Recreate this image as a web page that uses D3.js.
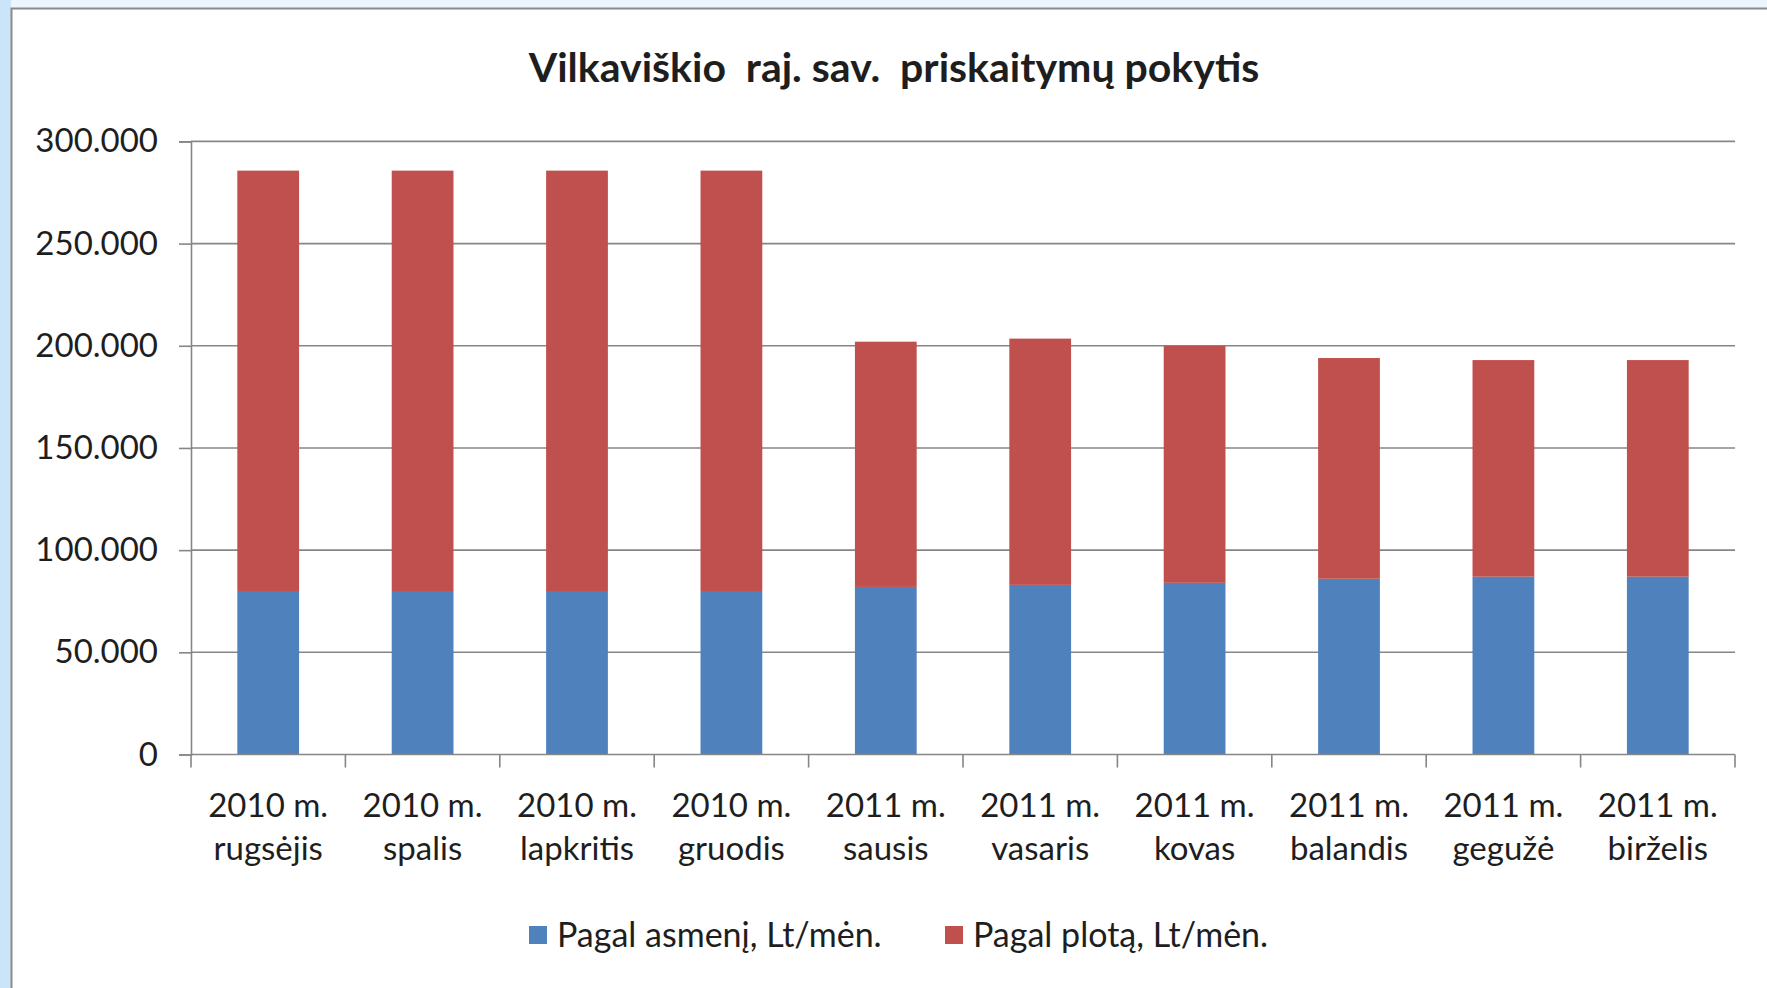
<!DOCTYPE html>
<html>
<head>
<meta charset="utf-8">
<script src="https://cdn.jsdelivr.net/npm/d3@7"></script>
<style>
  body { margin: 0; background: #eef6fd; }
  svg { display: block; }
  text { font-family: Lato, "Open Sans", sans-serif; fill: #1e1e1e; }
</style>
</head>
<body>
<div id="chart"></div>
<script>
// data
const years = ["2010 m.", "2010 m.", "2010 m.", "2010 m.", "2011 m.", "2011 m.", "2011 m.", "2011 m.", "2011 m.", "2011 m."]
const months = ["rugsėjis", "spalis", "lapkritis", "gruodis", "sausis", "vasaris", "kovas", "balandis", "gegužė", "birželis"]
const pagalAsmeni = [80000, 80000, 80000, 80000, 82000, 83000, 84000, 86000, 87000, 87000]
const pagalPlota = [205700, 205700, 205700, 205700, 120000, 120500, 116000, 108000, 106000, 106000]
const yTicks = [0, 50000, 100000, 150000, 200000, 250000, 300000]
const seriesNames = ["Pagal asmenį, Lt/mėn.", "Pagal plotą, Lt/mėn."]
const seriesColors = ["#4f81bd", "#c0504d"]
const title = "Vilkaviškio  raj. sav.  priskaitymų pokytis"

const W = 1767, H = 988
const plot = { left: 191, right: 1735, top: 141.4, bottom: 754.5 }

const svg = d3.select("#chart").append("svg")
    .attr("width", W)
    .attr("height", H)

// page background + chart frame
svg.append("rect").attr("width", W).attr("height", H).attr("fill", "#eef6fd")
svg.append("rect").attr("width", 11).attr("height", H).attr("fill", "#cce4f7")
svg.append("rect")
    .attr("x", 11.5).attr("y", 8.5)
    .attr("width", W).attr("height", H)
    .attr("fill", "#fff")
    .attr("stroke", "#8a8a8a")
    .attr("stroke-width", 2)

// title
svg.append("text")
    .attr("x", 894)
    .attr("y", 68)
    .attr("dy", "0.35em")
    .attr("text-anchor", "middle")
    .style("white-space", "pre")
    .style("font-weight", "bold")
    .style("font-size", "41px")
    .text(title)

const cats = months.map((m, i) => years[i] + " " + m)

const x = d3.scaleBand()
    .domain(cats)
    .range([plot.left, plot.right])
    .paddingInner(0.6)
    .paddingOuter(0.3)

const y = d3.scaleLinear()
    .domain([0, 300000])
    .range([plot.bottom, plot.top])

const fmt = d3.formatLocale({ decimal: ",", thousands: ".", grouping: [3], currency: ["", ""] }).format(",d")

// gridlines
svg.append("g")
    .selectAll("line")
    .data(yTicks.filter(d => d > 0))
    .enter()
    .append("line")
        .attr("x1", plot.left)
        .attr("x2", plot.right)
        .attr("y1", d => y(d))
        .attr("y2", d => y(d))
        .attr("stroke", "#868686")
        .attr("stroke-width", 1.6)

// stacked bars
const rows = cats.map((c, i) => ({ cat: c, a: pagalAsmeni[i], p: pagalPlota[i] }))
const stack = d3.stack().keys(["a", "p"])(rows)

svg.append("g")
    .selectAll("g")
    .data(stack)
    .enter()
    .append("g")
        .attr("fill", (d, i) => seriesColors[i])
    .selectAll("rect")
    .data(d => d)
    .enter()
    .append("rect")
        .attr("x", d => x(d.data.cat))
        .attr("width", x.bandwidth())
        .attr("y", d => y(d[1]))
        .attr("height", d => y(d[0]) - y(d[1]))

// y axis
const yAxis = svg.append("g")
    .attr("transform", "translate(" + plot.left + ",0)")
    .call(d3.axisLeft(y).tickValues(yTicks).tickFormat(fmt).tickSize(12).tickPadding(21))
yAxis.select(".domain").attr("stroke", "#868686").attr("stroke-width", 1.6)
yAxis.selectAll(".tick line").attr("stroke", "#868686").attr("stroke-width", 1.6)
yAxis.selectAll(".tick text")
    .style("font-size", "33px")
    .style("font-family", "Lato, sans-serif")
    .attr("fill", "#1e1e1e")

// x axis line + boundary ticks
const bounds = d3.range(cats.length + 1).map(i => plot.left + i * (plot.right - plot.left) / cats.length)
const xAxis = svg.append("g")
xAxis.append("line")
    .attr("x1", plot.left).attr("x2", plot.right)
    .attr("y1", plot.bottom).attr("y2", plot.bottom)
    .attr("stroke", "#868686").attr("stroke-width", 1.6)
xAxis.selectAll(".bt")
    .data(bounds)
    .enter()
    .append("line")
        .attr("class", "bt")
        .attr("x1", d => d).attr("x2", d => d)
        .attr("y1", plot.bottom).attr("y2", plot.bottom + 13)
        .attr("stroke", "#868686").attr("stroke-width", 1.6)

// category labels, two lines
const lab = xAxis.selectAll(".lab")
    .data(cats)
    .enter()
    .append("text")
        .attr("class", "lab")
        .attr("text-anchor", "middle")
        .style("font-size", "33px")
lab.append("tspan")
    .attr("x", d => x(d) + x.bandwidth() / 2)
    .attr("y", 817)
    .text((d, i) => years[i])
lab.append("tspan")
    .attr("x", d => x(d) + x.bandwidth() / 2)
    .attr("y", 860)
    .text((d, i) => months[i])

// legend
const legendX = [529, 945]
const leg = svg.append("g")
    .selectAll("g")
    .data(seriesNames)
    .enter()
    .append("g")
        .attr("transform", (d, i) => "translate(" + legendX[i] + ",935)")
leg.append("rect")
    .attr("x", 0).attr("y", -9)
    .attr("width", 18).attr("height", 18)
    .attr("fill", (d, i) => seriesColors[i])
leg.append("text")
    .attr("x", 28)
    .attr("dy", "0.35em")
    .style("font-size", "34px")
    .text(d => d)
</script>
</body>
</html>
